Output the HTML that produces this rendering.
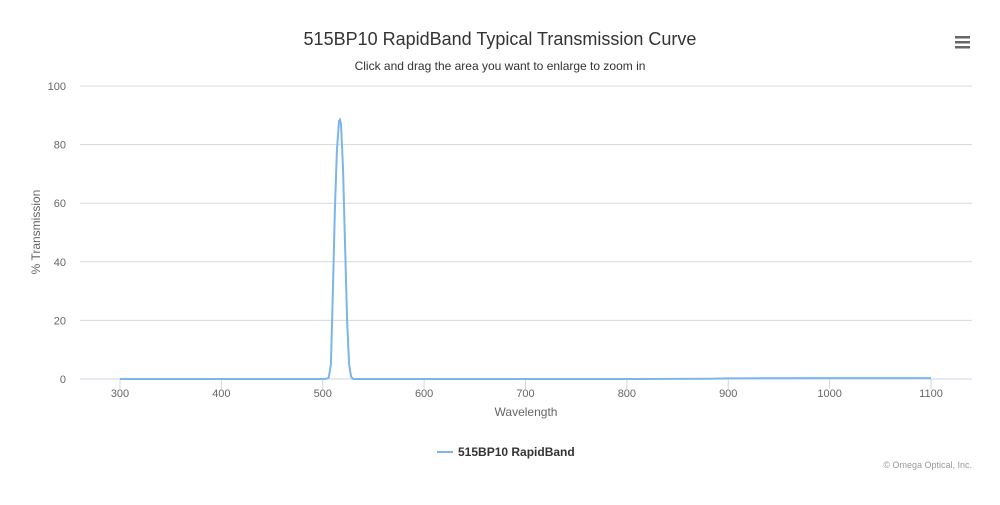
<!DOCTYPE html>
<html><head><meta charset="utf-8"><style>
body{margin:0;background:#fff;font-family:"Liberation Sans",sans-serif}
</style></head><body>
<svg width="1000" height="500" xmlns="http://www.w3.org/2000/svg" font-family="Liberation Sans, sans-serif">
<text x="500" y="45" text-anchor="middle" font-size="18" fill="#333">515BP10 RapidBand Typical Transmission Curve</text>
<text x="500" y="70" text-anchor="middle" font-size="12" fill="#333">Click and drag the area you want to enlarge to zoom in</text>
<g fill="#666">
<rect x="955" y="36" width="15" height="2.5"/><rect x="955" y="41" width="15" height="2.5"/><rect x="955" y="46" width="15" height="2.5"/></g>
<g id="grid"></g><g id="xt"></g><g id="yt"></g>
<text transform="translate(40,232) rotate(-90)" text-anchor="middle" font-size="12" fill="#666">% Transmission</text>
<text x="526" y="416" text-anchor="middle" font-size="12" fill="#666">Wavelength</text>
<path id="series" fill="none" stroke="#7cb5ec" stroke-width="2"/>
<g>
<line x1="437" y1="452" x2="453" y2="452" stroke="#7cb5ec" stroke-width="2"/>
<text x="458" y="456" font-size="12" font-weight="bold" fill="#333">515BP10 RapidBand</text></g>
<text x="972" y="468" text-anchor="end" font-size="9" fill="#999">© Omega Optical, Inc.</text>
</svg>
<script>
const wavelengths=[300,400,500,504,506,508,510,512,514,516,517,518,520,522,524,526,528,530,540,600,700,800,880,900,1000,1100];
const transmission=[0,0,0,0.1,0.5,5,30,58,78,88,88.5,87,72,45,20,5,0.8,0,0,0,0,0,0.1,0.2,0.3,0.3];
const xTicks=[300,400,500,600,700,800,900,1000,1100];
const yTicks=[0,20,40,60,80,100];
const X=v=>120+(v-300)*1.01375, Y=v=>379-v*2.93;
const ns="http://www.w3.org/2000/svg";
const g=document.getElementById('grid'),xt=document.getElementById('xt'),yt=document.getElementById('yt');
yTicks.forEach(t=>{const l=document.createElementNS(ns,'line');


l.setAttribute('x1',80);l.setAttribute('x2',972);l.setAttribute('y1',Y(t));l.setAttribute('y2',Y(t));
l.setAttribute('stroke',t===0?'#ccd6eb':'#d8d8d8');g.appendChild(l);
const tx=document.createElementNS(ns,'text');


tx.setAttribute('x',66);tx.setAttribute('y',Y(t)+4);tx.setAttribute('text-anchor','end');tx.setAttribute('font-size','11');tx.setAttribute('fill','#666');tx.textContent=t;yt.appendChild(tx);});
xTicks.forEach(t=>{const l=document.createElementNS(ns,'line');


l.setAttribute('x1',X(t));l.setAttribute('x2',X(t));l.setAttribute('y1',379);l.setAttribute('y2',389);l.setAttribute('stroke','#ccd6eb');xt.appendChild(l);
const tx=document.createElementNS(ns,'text');


tx.setAttribute('x',X(t));tx.setAttribute('y',397);tx.setAttribute('text-anchor','middle');tx.setAttribute('font-size','11');tx.setAttribute('fill','#666');tx.textContent=t;xt.appendChild(tx);});
document.getElementById('series').setAttribute('d',wavelengths.map((w,i)=>(i?'L':'M')+X(w).toFixed(1)+','+Y(transmission[i]).toFixed(1)).join(' '));
</script>
</body></html>
